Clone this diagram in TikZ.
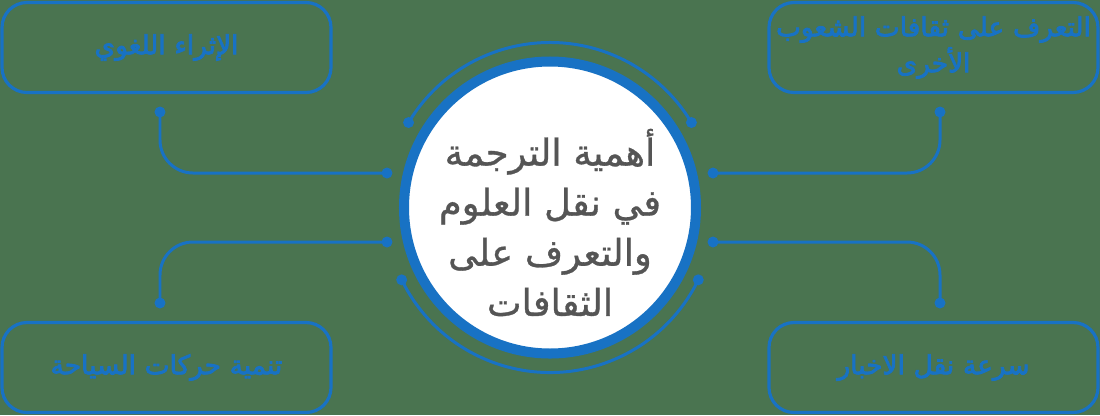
\documentclass[tikz,border=0pt]{standalone}
\usepackage{fontspec}
\newfontfamily\arabicfont[Script=Arabic,FakeBold=0.8]{DejaVu Sans}
\newfontfamily\arabicboxfont[Script=Arabic,FakeBold=3]{DejaVu Sans}
\TeXXeTstate=1
\usepackage{tikz}
\pgfdeclarelayer{backlayer}
\pgfdeclarelayer{nodelayer}
\pgfdeclarelayer{edgelayer}
\pgfsetlayers{backlayer,edgelayer,nodelayer,main}
\definecolor{linkblue}{RGB}{24,114,196}
\definecolor{bggreen}{RGB}{74,116,80}
\definecolor{textgrey}{RGB}{85,85,85}
\tikzstyle{box style}=[draw=linkblue, line width=1.8pt, rounded corners=0.5cm, minimum width=6.58cm, minimum height=1.8cm, text width=6.5cm, inner sep=0pt, align=center, text=linkblue, font=\arabicboxfont\fontsize{15}{20.5}\selectfont]
\tikzstyle{dot style}=[fill=linkblue, draw=none, shape=circle, minimum size=0.22cm, inner sep=0pt]
\tikzstyle{hub style}=[fill=white, draw=linkblue, line width=5.7pt, shape=circle, minimum size=5.84cm, inner sep=0pt]
\tikzstyle{link edge}=[draw=linkblue, line width=1.7pt, rounded corners=0.66cm]

\begin{document}
\begin{tikzpicture}
	\useasboundingbox (-11, -4.15) rectangle (11, 4.15);
	\begin{pgfonlayer}{backlayer}
		\fill [bggreen] (-11, -4.15) rectangle (11, 4.15);
	\end{pgfonlayer}
	\begin{pgfonlayer}{nodelayer}
		\node [style=hub style] (0) at (0, 0) {};
		\node [align=center, text=textgrey, font=\arabicfont\fontsize{21}{28.5}\selectfont] (1) at (0, -0.3) {\beginR أهمية الترجمة\endR\\\beginR في نقل العلوم\endR\\\beginR والتعرف على\endR\\\beginR الثقافات\endR};
		\node [style=box style] (2) at (-7.67, 3.2) {\beginR الإثراء اللغوي\endR};
		\node [style=box style] (3) at (7.67, 3.2) {\beginR التعرف على ثقافات الشعوب\endR\\\beginR الأخرى\endR};
		\node [style=box style] (4) at (-7.67, -3.2) {\beginR تنمية حركات السياحة\endR};
		\node [style=box style] (5) at (7.67, -3.2) {\beginR سرعة نقل الاخبار\endR};
		\node [style=dot style] (6) at (-7.8, 1.91) {};
		\node [style=dot style] (7) at (-3.26, 0.69) {};
		\node [style=dot style] (8) at (7.8, 1.91) {};
		\node [style=dot style] (9) at (3.26, 0.69) {};
		\node [style=dot style] (10) at (-7.8, -1.91) {};
		\node [style=dot style] (11) at (-3.26, -0.69) {};
		\node [style=dot style] (12) at (7.8, -1.91) {};
		\node [style=dot style] (13) at (3.26, -0.69) {};
		\node [style=dot style] (14) at (149:3.3) {};
		\node [style=dot style] (15) at (31:3.3) {};
		\node [style=dot style] (16) at (206:3.3) {};
		\node [style=dot style] (17) at (334:3.3) {};
	\end{pgfonlayer}
	\begin{pgfonlayer}{edgelayer}
		\draw [style=link edge] (6.center) |- (7.center);
		\draw [style=link edge] (8.center) |- (9.center);
		\draw [style=link edge] (10.center) |- (11.center);
		\draw [style=link edge] (12.center) |- (13.center);
		\draw [style=link edge] (14.center) arc (149:31:3.3);
		\draw [style=link edge] (16.center) arc (206:334:3.3);
	\end{pgfonlayer}
\end{tikzpicture}
\end{document}
